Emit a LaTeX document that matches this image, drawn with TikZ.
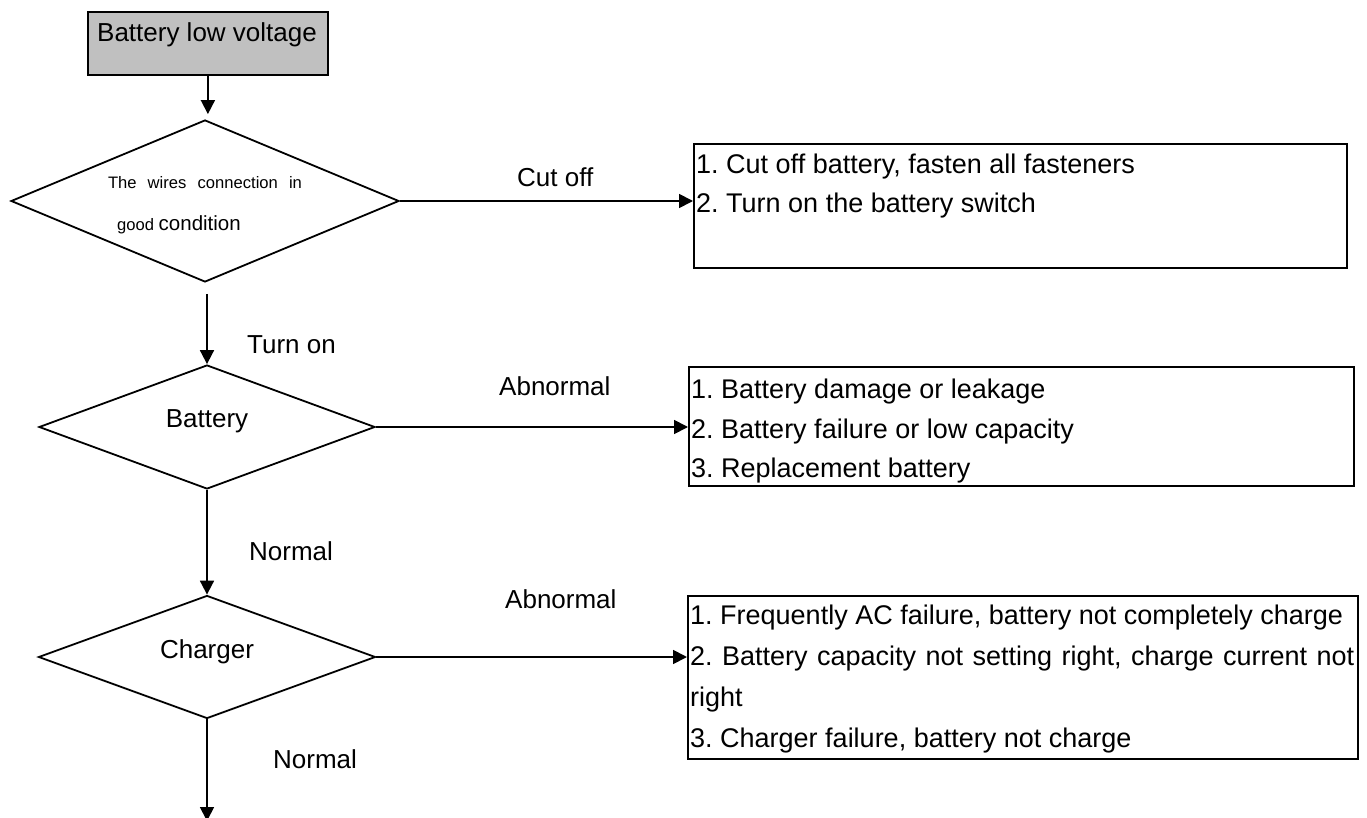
\documentclass[tikz,border=0pt]{standalone}
\usepackage{fontspec}
\setmainfont{Liberation Sans}
\usetikzlibrary{shapes.geometric,arrows.meta}
\definecolor{boxgray}{HTML}{C0C0C0}
\frenchspacing

\begin{document}
\begin{tikzpicture}[x=1pt,y=-1pt,
  flow/.style={line width=1.8pt, -{Triangle[length=14pt,width=14pt]}},
  decision/.style={diamond, draw, line width=1.8pt, inner sep=0pt},
  actionbox/.style={draw, line width=1.8pt, inner sep=0pt, anchor=north west},
  txt/.style={inner sep=0pt, anchor=base, font=\fontsize{26}{30}\selectfont},
  lbl/.style={inner sep=0pt, anchor=base west, font=\fontsize{26}{30}\selectfont},
  boxline/.style={inner sep=0pt, anchor=base west, font=\fontsize{27}{31}\selectfont},
]
\useasboundingbox (0,0) rectangle (1367,818);

% start box
\node[actionbox, fill=boxgray, minimum width=240pt, minimum height=63pt] (start) at (87,11) {};
\node[txt] (startt) at (207,42) {Battery low voltage};

% decisions
\node[decision, minimum width=388pt, minimum height=162pt] (d1) at (205,201) {};
\node[inner sep=0pt, anchor=base, font=\fontsize{16.6}{20}\selectfont] (d1a) at (205,189)
  {\makebox[194pt][s]{The wires connection in}};
\node[inner sep=0pt, anchor=base west] (d1b) at (117,231)
  {\fontsize{16.6}{20}\selectfont good \fontsize{20.5}{24}\selectfont condition};

\node[decision, minimum width=336pt, minimum height=124pt] (d2) at (207,427) {};
\node[txt] (d2t) at (207,427) {Battery};

\node[decision, minimum width=337pt, minimum height=123pt] (d3) at (207,657) {};
\node[txt] (d3t) at (207,658) {Charger};

% action boxes
\node[actionbox, minimum width=653pt, minimum height=124pt] (r1) at (693,143) {};
\node[boxline] (r1a) at (696,174) {1. Cut off battery, fasten all fasteners};
\node[boxline] (r1b) at (696,213) {2. Turn on the battery switch};

\node[actionbox, minimum width=665pt, minimum height=119pt] (r2) at (688,366) {};
\node[boxline] (r2a) at (691,398) {1. Battery damage or leakage};
\node[boxline] (r2b) at (691,438) {2. Battery failure or low capacity};
\node[boxline] (r2c) at (691,477) {3. Replacement battery};

\node[actionbox, minimum width=670pt, minimum height=163pt] (r3) at (687,595) {};
\node[boxline] (r3a) at (690,624) {1. Frequently AC failure, battery not completely charge};
\node[boxline] (r3b) at (690,665) {\makebox[664pt][s]{2. Battery capacity not setting right, charge current not}};
\node[boxline] (r3c) at (690,706) {right};
\node[boxline] (r3d) at (690,747) {3. Charger failure, battery not charge};

% connectors
\draw[flow, shorten >=5pt] (start.south) -- (start.south |- d1.north);
\draw[flow, shorten <=11pt] (d2.north |- d1.south) -- (d2.north);
\draw[flow] (d2.south) -- (d3.north);
\coordinate (out) at (207,821);
\draw[flow] (d3.south) -- (out);

\draw[flow] (d1.east) -- (d1.east -| r1.west);
\draw[flow] (d2.east) -- (d2.east -| r2.west);
\draw[flow] (d3.east) -- (d3.east -| r3.west);

% branch labels
\node[lbl] (lcut) at (517,187) {Cut off};
\node[lbl] (lon) at (247,353) {Turn on};
\node[lbl] (lab1) at (499,395) {Abnormal};
\node[lbl] (lno1) at (249,560) {Normal};
\node[lbl] (lab2) at (505,608) {Abnormal};
\node[lbl] (lno2) at (273,768) {Normal};
\end{tikzpicture}
\end{document}
